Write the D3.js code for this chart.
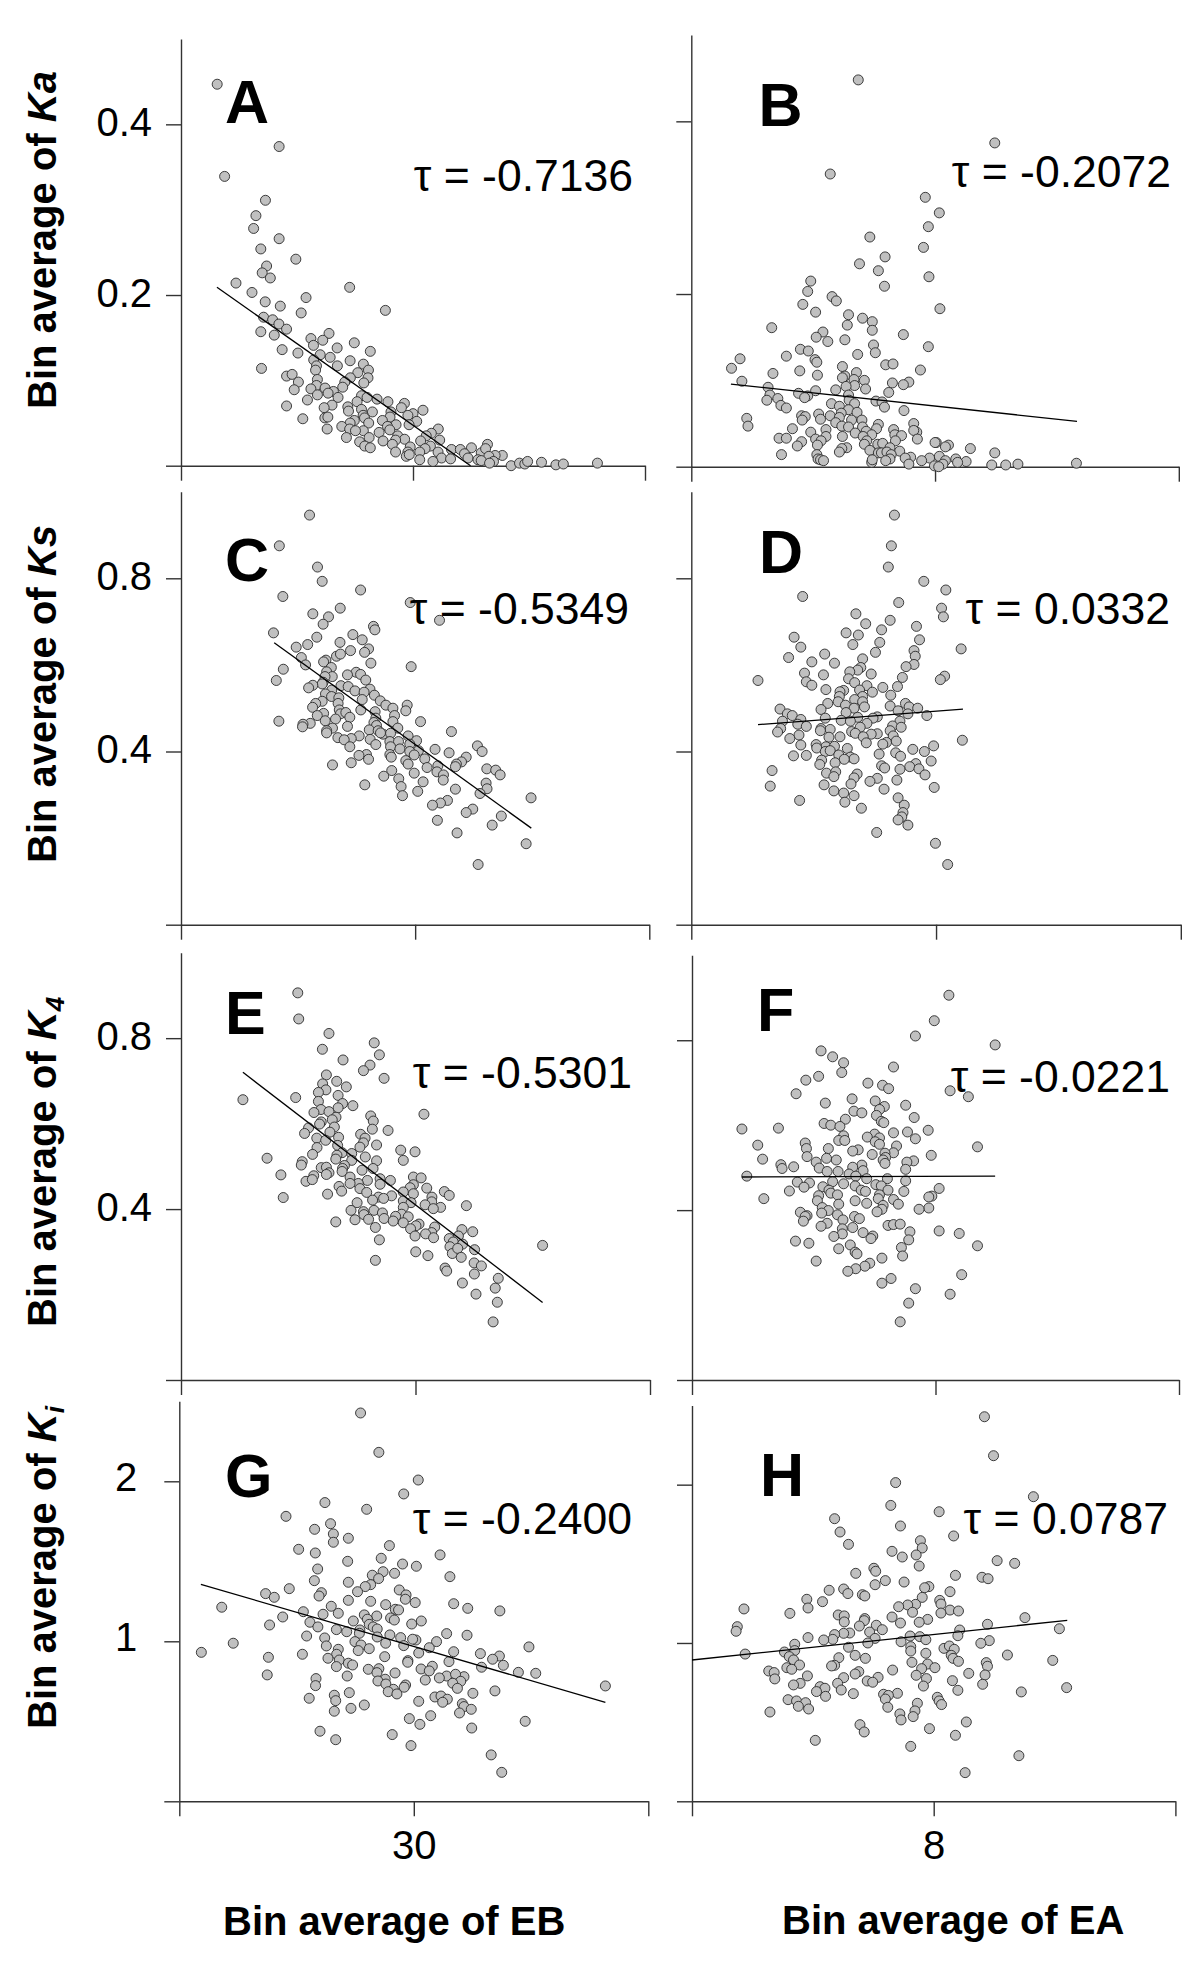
<!DOCTYPE html>
<html>
<head>
<meta charset="utf-8">
<script src="https://cdn.jsdelivr.net/npm/d3@7"></script>
<style>
  html, body { margin: 0; padding: 0; background: #fff; }
  svg { display: block; }
  text { font-family: "Liberation Sans", Arial, sans-serif; fill: #000; }
</style>
</head>
<body>
<div id="chart"></div>
<script>
// values, one x and one y list per panel
var ebA = [21.56,24.23,21.88,23.64,23.23,23.13,24.23,23.44,24.95,23.69,23.50,23.85,22.37,27.27,23.06,25.39,23.63,24.28,28.81,25.18,23.56,23.95,24.22,24.55,23.44,24.02,26.38,25.60,26.11,25.71,27.47,26.73,24.36,28.16,25.04,26.00,26.43,25.72,27.29,27.86,26.74,23.47,25.84,25.80,28.08,27.62,24.55,24.79,28.06,27.30,25.88,25.06,27.88,27.06,25.84,26.97,24.88,25.60,26.21,26.57,25.88,26.34,27.78,28.45,26.77,25.45,28.02,27.59,28.92,29.63,29.50,26.51,24.55,27.19,26.17,27.78,30.43,28.25,29.05,30.00,27.22,27.85,29.78,26.20,26.33,25.25,27.47,29.01,28.68,27.91,30.16,28.09,27.29,29.27,26.93,29.83,26.30,27.27,28.90,27.86,31.09,28.54,27.52,29.00,30.79,27.13,28.11,29.34,30.57,28.71,27.70,29.64,30.33,31.15,29.25,27.92,28.16,29.11,30.75,33.21,29.88,32.52,31.66,32.04,30.52,31.08,29.25,32.94,29.78,30.29,33.85,33.54,33.13,32.22,32.37,31.23,31.62,32.80,29.71,29.84,30.29,30.86,33.27,32.94,33.47,33.30,34.23,34.59,34.82,34.94,35.54,36.16,36.48,37.95];
var kaA = [.447,.374,.339,.311,.293,.278,.266,.254,.242,.234,.226,.220,.214,.209,.203,.197,.192,.187,.182,.179,.174,.171,.166,.160,.157,.153,.155,.149,.147,.141,.144,.138,.136,.134,.132,.130,.127,.124,.123,.119,.117,.114,.117,.112,.112,.109,.105,.107,.103,.103,.101,.098,.097,.098,.094,.092,.089,.090,.091,.087,.083,.085,.082,.078,.080,.077,.080,.075,.075,.073,.068,.071,.070,.069,.068,.066,.065,.063,.063,.061,.064,.059,.059,.056,.057,.055,.053,.057,.053,.056,.052,.050,.050,.048,.046,.048,.043,.043,.046,.041,.043,.039,.041,.042,.038,.033,.033,.035,.035,.029,.028,.031,.029,.030,.030,.023,.021,.025,.023,.025,.022,.021,.019,.019,.020,.016,.016,.015,.016,.016,.012,.012,.020,.014,.009,.009,.008,.007,.011,.013,.007,.005,.011,.006,.005,.003,.000,.003,.002,.005,.004,.001,.002,.003];

var eaB = [6.74,8.98,6.28,7.84,8.07,7.89,6.93,7.81,7.18,6.76,7.07,7.90,5.96,7.17,5.91,6.31,6.38,5.83,8.08,6.04,6.58,6.81,6.97,6.56,5.32,6.97,6.16,7.48,6.05,6.52,6.24,6.99,7.89,5.79,5.92,7.02,6.73,5.56,4.80,6.03,6.06,7.19,7.31,6.48,4.66,7.76,5.78,6.71,5.34,6.07,6.52,6.48,6.67,6.84,4.83,7.57,7.30,7.48,6.68,6.54,5.26,6.86,6.37,6.04,7.24,5.76,5.29,5.91,5.86,6.58,5.42,5.24,6.59,7.03,7.13,6.30,6.68,5.47,7.17,6.43,5.56,7.49,6.58,6.72,6.09,5.81,5.87,6.28,6.46,6.43,4.91,5.82,6.12,6.63,6.80,6.37,7.65,7.07,4.93,6.47,6.81,5.66,7.32,6.21,7.04,6.87,6.58,5.96,7.70,7.65,6.69,7.34,6.96,7.45,6.21,6.48,5.44,5.56,6.04,7.71,6.82,7.35,6.13,5.81,6.88,8.02,8.00,6.84,7.06,7.14,8.22,8.17,6.07,5.74,7.26,6.55,6.47,8.58,6.93,7.42,6.43,8.98,7.07,7.12,7.21,6.06,5.48,7.28,8.07,7.60,7.51,7.91,8.34,6.08,6.12,6.17,7.26,6.96,7.78,8.17,8.51,6.97,7.19,7.57,8.37,8.13,7.99,8.06,8.93,9.16,9.36,10.32];
var kaB = [.448,.375,.339,.312,.294,.278,.266,.254,.243,.235,.227,.220,.215,.209,.203,.197,.192,.188,.183,.179,.176,.172,.168,.164,.161,.158,.156,.153,.150,.147,.145,.141,.139,.136,.134,.132,.130,.128,.125,.124,.121,.118,.119,.116,.114,.112,.111,.109,.108,.106,.105,.103,.101,.100,.099,.098,.097,.095,.094,.093,.092,.090,.089,.088,.086,.085,.083,.082,.080,.083,.079,.077,.077,.076,.075,.073,.073,.071,.069,.070,.068,.065,.066,.063,.061,.059,.058,.059,.062,.057,.056,.054,.055,.054,.054,.051,.050,.049,.047,.047,.046,.044,.043,.043,.044,.041,.046,.040,.040,.042,.039,.037,.037,.036,.035,.035,.033,.033,.032,.032,.035,.030,.030,.029,.030,.028,.028,.026,.026,.027,.025,.023,.025,.024,.022,.022,.021,.021,.019,.018,.017,.016,.016,.016,.017,.014,.014,.014,.012,.011,.010,.010,.009,.009,.008,.007,.009,.005,.007,.007,.006,.008,.007,.003,.005,.003,.001,.000,.002,.002,.003,.004];

var ebC = [25.49,24.20,25.83,26.03,27.67,24.35,29.79,26.80,31.04,25.63,26.30,26.07,28.22,28.28,23.95,27.34,25.80,27.74,26.79,25.41,24.92,28.01,27.24,27.84,26.64,26.81,25.14,26.19,26.09,28.11,29.83,25.32,26.42,24.37,26.22,27.48,27.11,27.67,26.46,26.15,24.07,27.89,26.07,26.03,26.83,27.14,25.63,25.45,28.07,27.43,26.44,27.82,26.17,28.26,26.43,26.74,27.74,28.51,26.03,26.71,28.75,25.75,29.66,29.05,25.62,29.60,26.76,27.68,28.29,26.81,26.09,27.04,29.12,25.82,27.21,28.32,26.60,26.16,30.23,24.18,28.24,29.05,25.52,25.21,25.19,27.11,28.35,29.26,26.47,26.22,31.55,28.04,28.42,26.22,28.63,27.61,29.70,28.95,26.70,27.27,28.08,26.97,30.06,28.92,29.29,28.52,28.32,29.77,27.21,32.66,28.95,30.85,29.35,30.14,32.86,29.77,31.45,28.92,29.96,27.92,27.60,28.98,32.18,28.01,30.41,29.60,27.27,31.98,26.47,31.76,29.70,31.72,30.97,30.51,33.06,33.44,29.00,30.93,29.96,33.63,31.21,28.66,31.20,29.30,30.34,33.03,27.85,29.40,33.07,31.72,30.11,32.77,29.46,34.95,31.38,31.08,30.74,32.46,32.18,33.68,30.95,33.29,31.79,34.74,32.69];
var ksC = [.946,.875,.826,.793,.773,.758,.744,.731,.703,.718,.711,.694,.689,.681,.674,.670,.664,.658,.652,.647,.641,.637,.633,.629,.620,.625,.617,.611,.607,.604,.596,.600,.594,.590,.584,.583,.577,.578,.573,.573,.564,.565,.560,.556,.552,.550,.553,.547,.544,.540,.542,.537,.533,.530,.527,.524,.520,.517,.516,.511,.507,.511,.507,.500,.502,.494,.496,.496,.492,.487,.488,.490,.483,.483,.479,.477,.475,.471,.469,.470,.467,.469,.465,.463,.457,.458,.460,.454,.454,.448,.446,.450,.448,.443,.440,.436,.436,.442,.432,.430,.428,.427,.425,.423,.423,.443,.416,.417,.411,.413,.411,.405,.406,.402,.400,.400,.397,.393,.392,.393,.391,.387,.387,.382,.383,.379,.374,.376,.369,.371,.371,.365,.367,.363,.360,.357,.356,.353,.350,.346,.346,.343,.334,.337,.330,.327,.323,.319,.314,.313,.308,.303,.298,.293,.287,.281,.276,.267,.259,.251,.241,.230,.212,.187,.139];

var eaD = [7.32,7.27,7.22,7.80,8.16,5.82,7.39,8.09,6.69,8.12,7.25,6.85,7.68,7.11,6.53,6.73,5.68,7.73,7.08,6.64,5.79,8.41,7.64,7.01,6.18,7.66,5.59,6.80,5.97,6.34,7.64,6.77,7.51,6.72,6.59,5.85,6.94,6.16,8.14,7.45,8.07,6.57,5.09,5.88,6.67,5.97,6.87,7.37,7.13,6.20,6.49,6.96,6.43,7.26,6.75,6.42,6.80,6.67,6.40,6.23,7.50,6.80,6.83,7.25,6.52,7.56,6.12,6.66,5.45,7.70,6.53,7.38,5.57,5.65,7.54,7.85,7.04,6.97,6.72,6.19,5.79,6.45,7.41,6.60,5.49,5.74,5.88,6.87,6.76,7.29,7.43,5.46,6.12,6.27,7.25,5.41,6.62,6.11,7.04,6.94,6.68,5.76,7.30,6.25,6.43,6.81,5.61,7.19,6.86,7.35,8.43,7.13,6.04,5.79,6.20,6.34,7.96,6.05,6.55,7.62,6.19,6.27,7.81,7.07,7.34,6.41,5.67,5.88,7.42,6.60,6.66,6.50,6.13,7.92,6.35,6.10,7.67,7.11,7.16,7.57,7.72,5.32,7.41,6.21,6.36,7.82,6.71,6.33,6.66,7.04,7.36,6.92,6.61,6.17,5.29,7.97,7.15,6.33,6.49,6.66,7.38,5.77,6.51,7.48,6.78,7.46,7.44,7.38,7.54,7.03,7.99,8.19];
var ksD = [.946,.875,.826,.793,.773,.758,.744,.731,.718,.711,.703,.695,.689,.681,.674,.669,.664,.658,.652,.647,.641,.637,.633,.629,.625,.620,.617,.614,.607,.604,.601,.594,.596,.588,.584,.581,.579,.577,.574,.571,.566,.568,.564,.561,.559,.553,.552,.550,.548,.543,.541,.537,.538,.530,.542,.527,.527,.520,.515,.511,.511,.515,.503,.505,.507,.503,.497,.500,.498,.500,.490,.494,.487,.483,.487,.483,.480,.477,.479,.477,.474,.472,.470,.470,.470,.463,.458,.465,.456,.459,.456,.453,.453,.451,.448,.445,.446,.448,.441,.440,.442,.438,.436,.433,.434,.434,.430,.421,.420,.424,.426,.417,.416,.415,.411,.412,.413,.408,.407,.405,.400,.402,.400,.394,.397,.392,.390,.391,.389,.387,.383,.382,.380,.378,.374,.370,.372,.367,.362,.365,.360,.356,.359,.350,.353,.346,.348,.342,.339,.338,.334,.331,.325,.323,.320,.317,.313,.309,.304,.298,.293,.287,.283,.276,.269,.259,.249,.242,.230,.213,.188,.139];

var ebE = [24.98,25.02,26.31,28.24,26.03,28.46,26.91,28.06,27.78,26.20,28.66,26.64,26.04,27.05,26.18,25.86,26.70,24.89,22.64,25.86,26.89,27.33,26.70,25.97,25.67,26.31,28.09,30.36,26.61,28.20,26.45,25.98,25.91,25.44,26.54,28.16,28.83,25.27,26.35,27.66,25.79,26.72,27.85,26.17,27.78,28.34,26.68,27.63,25.80,29.37,29.98,26.87,25.61,27.28,26.65,27.86,23.67,26.60,27.28,29.48,28.34,25.17,25.13,26.97,25.98,26.20,26.89,28.19,27.72,26.87,26.31,24.26,26.20,29.91,30.24,27.21,25.66,28.49,25.33,25.60,28.93,27.95,27.56,27.21,28.49,29.91,29.77,26.74,30.48,27.63,31.23,29.48,26.85,27.92,26.25,31.44,29.91,28.98,30.70,28.42,28.64,24.36,28.17,27.51,29.48,30.69,29.81,30.41,32.17,31.07,30.76,29.48,27.25,28.23,27.78,28.59,29.41,27.80,29.69,29.15,28.66,27.42,26.60,28.00,29.05,29.48,30.15,30.02,30.82,29.79,28.29,31.98,32.44,30.69,30.43,29.98,30.77,31.83,31.44,28.46,31.61,32.01,31.47,32.52,30.01,31.57,31.80,30.53,31.95,28.29,32.50,32.81,31.26,31.33,32.51,32.00,35.42,33.53,33.40,32.58,33.49,33.31];
var k4E = [.906,.845,.811,.789,.774,.761,.749,.737,.724,.714,.706,.699,.693,.686,.679,.673,.666,.661,.656,.652,.647,.642,.637,.633,.626,.628,.618,.622,.615,.606,.609,.604,.599,.590,.592,.587,.584,.577,.580,.575,.566,.568,.566,.561,.555,.550,.549,.545,.544,.538,.534,.532,.528,.530,.526,.522,.519,.517,.514,.514,.513,.511,.503,.502,.497,.498,.495,.495,.491,.488,.485,.480,.481,.475,.473,.475,.478,.471,.465,.469,.467,.467,.460,.460,.458,.457,.450,.453,.449,.448,.441,.440,.442,.439,.435,.432,.436,.431,.428,.428,.425,.427,.421,.415,.419,.417,.415,.410,.408,.404,.401,.404,.397,.397,.394,.391,.388,.387,.382,.383,.378,.375,.370,.376,.372,.368,.365,.361,.358,.354,.357,.352,.347,.345,.342,.337,.333,.337,.331,.328,.323,.318,.312,.305,.300,.296,.308,.291,.287,.280,.274,.267,.262,.255,.248,.227,.315,.238,.215,.201,.182,.136];

var eaF = [8.22,7.98,7.67,8.98,6.12,6.31,6.49,7.31,6.46,6.08,5.87,6.89,7.13,7.23,8.24,5.71,8.54,6.63,7.01,6.19,7.51,7.16,7.08,6.66,6.79,7.03,7.65,6.52,7.11,7.15,6.17,6.28,6.43,4.82,5.42,7.88,7.54,7.31,7.00,6.49,6.88,7.08,7.67,6.41,6.51,7.01,5.86,7.08,5.08,8.69,7.36,6.24,5.88,6.73,6.64,7.31,7.17,6.96,7.93,5.89,7.18,6.21,5.16,6.37,7.14,7.64,7.53,7.17,6.04,5.46,6.79,6.64,5.67,6.09,5.48,7.51,6.81,6.40,6.22,6.58,6.69,4.90,7.21,6.87,7.51,5.73,6.31,5.93,6.49,7.02,6.68,6.15,5.84,7.11,8.06,6.78,7.22,5.60,6.85,7.48,6.25,6.28,7.08,6.08,7.94,7.89,6.39,7.31,5.18,7.06,6.06,6.68,6.87,6.41,7.39,7.14,7.89,7.73,6.14,6.24,7.12,7.04,5.78,6.13,5.89,6.39,5.86,6.67,6.75,5.83,6.48,7.22,7.31,7.42,6.22,6.12,6.47,6.64,8.06,7.58,6.81,8.39,6.47,6.33,6.97,6.94,5.70,7.56,5.92,6.60,8.69,7.44,6.41,6.68,6.71,7.46,7.12,6.04,6.92,6.84,6.69,6.56,8.43,7.27,7.12,7.67,8.24,7.56,7.42];
var k4F = [.906,.846,.810,.789,.775,.761,.747,.737,.724,.715,.706,.699,.694,.686,.681,.674,.667,.662,.657,.652,.647,.644,.637,.633,.629,.623,.618,.614,.609,.606,.604,.600,.597,.591,.593,.588,.584,.582,.579,.575,.572,.570,.568,.564,.564,.561,.558,.555,.553,.549,.551,.545,.545,.542,.539,.535,.534,.531,.529,.526,.524,.522,.520,.518,.518,.516,.513,.510,.513,.507,.506,.501,.502,.499,.498,.496,.493,.491,.491,.485,.480,.480,.474,.474,.469,.466,.467,.464,.462,.460,.457,.455,.454,.457,.451,.447,.447,.445,.444,.444,.447,.440,.436,.434,.433,.431,.436,.425,.427,.427,.422,.422,.416,.414,.414,.411,.405,.402,.406,.399,.402,.396,.395,.393,.387,.389,.385,.385,.380,.374,.377,.364,.366,.367,.369,.362,.356,.359,.351,.349,.347,.345,.344,.338,.339,.333,.327,.330,.322,.318,.316,.312,.309,.301,.297,.292,.287,.280,.275,.268,.262,.256,.248,.239,.228,.215,.202,.181,.137];

var ebG = [27.73,28.51,30.19,29.57,26.21,27.99,24.55,26.45,25.77,26.57,27.21,26.57,28.96,25.09,25.80,31.12,28.61,27.18,29.52,30.11,25.90,28.69,29.18,28.23,31.54,28.50,25.76,27.21,28.16,27.93,24.69,29.38,27.60,26.06,23.68,29.67,25.96,24.05,29.64,27.21,28.16,30.06,31.70,28.80,26.48,21.81,32.30,29.21,29.35,33.67,25.29,26.78,26.13,27.89,28.42,24.41,29.01,28.02,29.17,27.42,30.32,25.57,28.10,29.91,23.85,25.91,28.27,28.44,26.70,27.70,27.14,27.68,31.40,32.27,28.98,25.43,28.44,29.44,26.20,30.09,29.95,30.97,27.49,22.30,28.80,27.75,29.57,26.27,30.66,28.10,26.78,27.63,20.94,31.70,34.91,30.21,26.71,25.25,32.84,23.80,28.76,33.65,33.36,26.34,26.82,29.75,31.50,33.82,27.21,27.39,29.74,30.79,32.89,26.70,28.06,30.31,28.51,30.66,34.46,28.43,29.20,35.20,23.75,31.40,31.09,27.16,32.14,31.78,25.83,28.78,30.49,32.00,28.47,31.66,28.81,29.65,25.81,29.59,31.86,29.13,28.91,33.46,27.25,32.52,29.28,38.17,26.61,30.90,31.16,31.43,25.54,26.67,30.21,31.23,32.07,27.89,32.14,27.32,32.45,26.61,31.95,30.72,29.81,34.75,30.26,32.47,26.00,29.08,26.67,29.88,33.30,33.75];
var kiG = [2.427,2.181,2.008,1.921,1.867,1.825,1.781,1.735,1.700,1.671,1.644,1.619,1.598,1.575,1.552,1.540,1.519,1.500,1.483,1.469,1.452,1.435,1.425,1.413,1.404,1.392,1.379,1.369,1.354,1.342,1.329,1.321,1.310,1.304,1.298,1.290,1.283,1.275,1.263,1.256,1.250,1.242,1.235,1.229,1.219,1.213,1.206,1.200,1.196,1.190,1.185,1.175,1.169,1.165,1.158,1.152,1.146,1.138,1.133,1.127,1.127,1.119,1.106,1.108,1.102,1.090,1.090,1.077,1.073,1.071,1.060,1.050,1.048,1.038,1.040,1.033,1.027,1.023,1.021,1.008,1.013,.998,.998,.988,.988,.977,.973,.971,.960,.954,.950,.942,.931,.935,.965,.927,.919,.919,.923,.900,.904,.908,.888,.894,.883,.879,.873,.850,.863,.852,.869,.844,.838,.842,.825,.827,.829,.815,.806,.804,.802,.800,.790,.783,.771,.783,.779,.794,.767,.763,.758,.750,.752,.738,.733,.727,.723,.713,.706,.700,.685,.690,.679,.675,.671,.721,.663,.652,.658,.638,.644,.629,.625,.619,.610,.602,.592,.581,.575,.563,.552,.535,.517,.500,.481,.458,.438,.417,.385,.348,.290,.181];

var eaH = [8.84,8.99,7.37,9.65,7.29,8.09,6.36,7.45,6.45,8.33,6.59,7.78,7.81,7.31,7.71,7.48,9.05,9.34,7.76,7.01,7.04,6.71,8.36,8.80,8.90,7.20,7.51,7.03,7.92,7.85,6.51,6.27,6.58,8.27,6.82,6.86,7.81,5.90,8.10,6.16,7.70,8.12,7.57,7.42,5.92,4.86,8.27,8.41,7.65,8.12,5.62,6.42,6.52,7.31,6.86,9.51,7.90,6.85,7.76,7.45,6.52,8.89,7.05,6.77,4.75,7.15,10.08,8.43,4.73,6.94,6.61,6.51,6.36,8.40,7.61,7.77,5.92,7.03,7.87,6.33,6.18,7.46,8.92,6.91,8.78,5.70,7.62,6.59,8.17,8.26,8.34,7.62,5.53,5.70,4.88,7.87,6.70,8.29,5.61,9.22,6.43,6.87,8.32,5.68,9.97,8.41,7.64,8.87,7.90,5.78,6.36,6.31,8.89,5.57,8.02,7.80,5.65,7.32,5.27,5.36,6.76,6.70,8.58,8.85,5.91,7.71,7.08,7.88,6.51,5.37,6.90,8.31,6.99,5.79,6.41,5.68,8.81,7.83,6.12,10.20,6.20,6.47,8.40,6.06,9.45,7.40,6.67,7.17,7.25,6.21,8.06,5.59,7.20,5.73,8.09,7.73,5.88,8.13,5.76,7.24,5.93,7.69,5.29,7.44,7.66,7.46,8.54,6.78,6.85,7.93,8.36,6.04,7.62,9.41,8.52];
var kiH = [2.429,2.183,2.013,1.924,1.869,1.829,1.785,1.739,1.701,1.676,1.623,1.646,1.600,1.579,1.556,1.543,1.520,1.503,1.486,1.472,1.453,1.440,1.427,1.415,1.406,1.394,1.385,1.368,1.356,1.349,1.341,1.333,1.312,1.324,1.305,1.297,1.288,1.276,1.269,1.261,1.244,1.246,1.240,1.229,1.221,1.215,1.208,1.202,1.194,1.189,1.187,1.177,1.171,1.164,1.154,1.160,1.149,1.141,1.131,1.126,1.133,1.118,1.112,1.107,1.103,1.084,1.090,1.082,1.074,1.069,1.063,1.061,1.053,1.046,1.044,1.040,1.034,1.029,1.021,1.023,1.019,1.008,1.015,1.000,.998,.992,.977,.973,.966,.981,.960,.949,.943,.952,.930,.935,.922,.922,.914,.924,.907,.903,.903,.893,.890,.884,.878,.876,.867,.861,.859,.855,.853,.844,.844,.838,.834,.829,.823,.813,.819,.804,.808,.798,.792,.796,.783,.775,.781,.773,.760,.762,.752,.745,.745,.735,.739,.728,.724,.718,.714,.703,.701,.693,.691,.682,.680,.676,.669,.663,.657,.642,.646,.634,.634,.619,.623,.611,.600,.594,.583,.571,.564,.552,.535,.514,.501,.484,.438,.459,.417,.385,.347,.288,.181];

// fitted line end points
var lineA = [[21.55, .209], [32.48, 0]];
var lineB = [[4.65, .0957], [10.33, .0525]];
var lineC = [[23.98, .651], [34.96, .223]];
var lineD = [[5.09, .462], [8.44, .498]];
var lineE = [[22.64, .720], [35.42, .1815]];
var lineF = [[4.82, .478], [8.98, .480]];
var lineG = [[20.92, 1.356], [38.17, .619]];
var lineH = [[4, .8925], [10.21, 1.143]];

var kaTicks = [0, .2, .4];
var ksTicks = [0, .4, .8];
var kiTicks = [0, 1, 2];
var ebTicks = [20, 30, 40];
var eaTicks = [4, 8, 12];

var svgWidth = 1200;
var svgHeight = 1976;

var svg = d3.select("#chart")
  .append("svg")
  .attr("width", svgWidth)
  .attr("height", svgHeight);

// xr/yr are the pixel ranges of each panel; tx,ty = tau text end, lx,ly = letter
var panels = [
  { name: "A", xs: ebA, ys: kaA, fit: lineA, xd: [20, 40], xt: ebTicks, yd: [0, .5], yt: kaTicks, xr: [181, 645], yr: [465.7, 39], tau: "τ = -0.7136", tx: 633, ty: 191, lx: 225, ly: 123 },
  { name: "B", xs: eaB, ys: kaB, fit: lineB, xd: [4, 12], xt: eaTicks, yd: [0, .5], yt: kaTicks, xr: [691.3, 1178.8], yr: [466.7, 35], tau: "τ = -0.2072", tx: 1171, ty: 187, lx: 758.5, ly: 126 },
  { name: "C", xs: ebC, ys: ksC, fit: lineC, xd: [20, 40], xt: ebTicks, yd: [0, 1], yt: ksTicks, xr: [181, 649.3], yr: [924.7, 491.7], tau: "τ = -0.5349", tx: 629, ty: 624, lx: 225, ly: 581 },
  { name: "D", xs: eaD, ys: ksD, fit: lineD, xd: [4, 12], xt: eaTicks, yd: [0, 1], yt: ksTicks, xr: [691.3, 1180.8], yr: [924.7, 491.7], tau: "τ = 0.0332", tx: 1170, ty: 624, lx: 759, ly: 573 },
  { name: "E", xs: ebE, ys: k4E, fit: lineE, xd: [20, 40], xt: ebTicks, yd: [0, 1], yt: ksTicks, xr: [181, 650], yr: [1380, 952.7], tau: "τ = -0.5301", tx: 632, ty: 1088, lx: 225, ly: 1034 },
  { name: "F", xs: eaF, ys: k4F, fit: lineF, xd: [4, 12], xt: eaTicks, yd: [0, 1], yt: ksTicks, xr: [692, 1179], yr: [1380, 955.3], tau: "τ = -0.0221", tx: 1170, ty: 1092, lx: 757, ly: 1031 },
  { name: "G", xs: ebG, ys: kiG, fit: lineG, xd: [20, 40], xt: ebTicks, yd: [0, 2.5], yt: kiTicks, xr: [179.3, 648.3], yr: [1801.3, 1401.3], tau: "τ = -0.2400", tx: 632, ty: 1534, lx: 225, ly: 1497 },
  { name: "H", xs: eaH, ys: kiH, fit: lineH, xd: [4, 12], xt: eaTicks, yd: [0, 2.5], yt: kiTicks, xr: [692, 1175.4], yr: [1801.3, 1405.5], tau: "τ = 0.0787", tx: 1168, ty: 1534, lx: 760, ly: 1496 }
];

panels.forEach(function(p, i) {
  var xScale = d3.scaleLinear().domain(p.xd).range(p.xr);
  var yScale = d3.scaleLinear().domain(p.yd).range(p.yr);
  var g = svg.append("g").attr("class", "panel" + p.name);

  var bottomAxis = d3.axisBottom(xScale)
    .tickValues(p.xt)
    .tickSizeInner(15)
    .tickSizeOuter(0)
    .tickFormat(function(d) {
      if (i < 6) return "";
      return d == p.xt[1] ? d : "";
    });

  var leftAxis = d3.axisLeft(yScale)
    .tickValues(p.yt)
    .tickSizeInner(15)
    .tickSizeOuter(0)
    .tickPadding(i == 6 ? 27 : 14)
    .tickFormat(function(d) {
      if (i % 2 == 1 || d == 0) return "";
      return i < 6 ? d3.format(".1f")(d) : d;
    });

  var xAxisG = g.append("g")
    .attr("transform", `translate(0, ${p.yr[0]})`)
    .call(bottomAxis);

  var yAxisG = g.append("g")
    .attr("transform", `translate(${p.xr[0]}, 0)`)
    .call(leftAxis);

  [xAxisG, yAxisG].forEach(function(a) {
    a.selectAll("path, line").attr("stroke", "#333").attr("stroke-width", 1.4);
    a.selectAll("text").attr("font-size", 40);
  });
  xAxisG.selectAll("text").attr("y", 57.7).attr("dy", 0);
  yAxisG.selectAll("text").attr("dy", i == 6 ? "0.22em" : "0.28em");

  g.selectAll("circle")
    .data(d3.zip(p.xs, p.ys))
    .enter()
    .append("circle")
    .attr("cx", d => xScale(d[0]))
    .attr("cy", d => yScale(d[1]))
    .attr("r", 5)
    .attr("fill", "#c0c0c0")
    .attr("stroke", "#2a2a2a")
    .attr("stroke-width", 0.9);

  g.append("path")
    .attr("d", d3.line().x(d => xScale(d[0])).y(d => yScale(d[1]))(p.fit))
    .attr("fill", "none")
    .attr("stroke", "#000")
    .attr("stroke-width", 1.3);

  g.append("text")
    .attr("x", p.lx)
    .attr("y", p.ly)
    .attr("font-size", 61)
    .attr("font-weight", "bold")
    .text(p.name);

  g.append("text")
    .attr("x", p.tx)
    .attr("y", p.ty)
    .attr("text-anchor", "end")
    .attr("font-size", 44.5)
    .text(p.tau);
});

// y titles, x = baseline, y = bottom end of the rotated text
var yTitles = [
  { k: "Ka", sub: "", y: 409 },
  { k: "Ks", sub: "", y: 863 },
  { k: "K", sub: "4", y: 1327 },
  { k: "K", sub: "i", y: 1729 }
];

yTitles.forEach(function(t) {
  var label = svg.append("text")
    .attr("transform", `translate(56, ${t.y}) rotate(-90)`)
    .attr("font-size", 40)
    .attr("font-weight", "bold");
  label.append("tspan").text("Bin average of ");
  label.append("tspan").attr("font-style", "italic").text(t.k);
  if (t.sub) {
    label.append("tspan")
      .attr("font-style", "italic")
      .attr("font-size", 26)
      .attr("dy", 8)
      .text(t.sub);
  }
});

var xTitles = [
  { text: "Bin average of EB", x: 223, y: 1935 },
  { text: "Bin average of EA", x: 782, y: 1934 }
];

svg.selectAll(".xTitle")
  .data(xTitles)
  .enter()
  .append("text")
  .attr("class", "xTitle")
  .attr("x", d => d.x)
  .attr("y", d => d.y)
  .attr("font-size", 40)
  .attr("font-weight", "bold")
  .text(d => d.text);
</script>
</body>
</html>
